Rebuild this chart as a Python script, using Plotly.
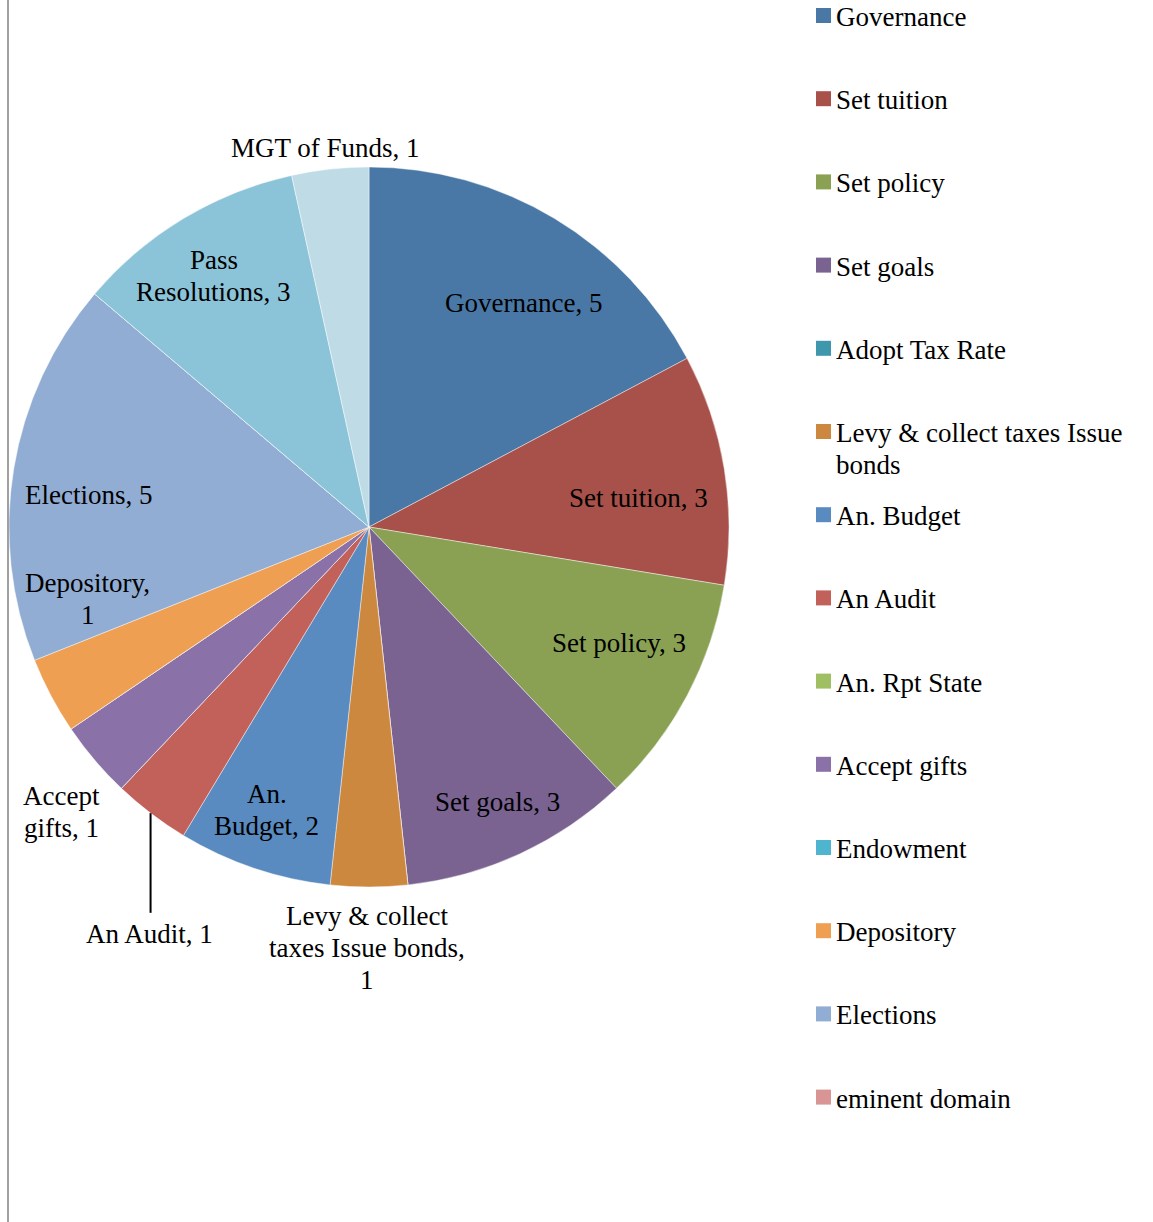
import math
import plotly.graph_objects as go

# ---- data -------------------------------------------------------------
categories = [
    "Governance", "Set tuition", "Set policy", "Set goals", "Adopt Tax Rate",
    "Levy & collect taxes Issue bonds", "An. Budget", "An Audit", "An. Rpt State",
    "Accept gifts", "Endowment", "Depository", "Elections", "eminent domain",
    "Pass Resolutions", "MGT of Funds",
]
counts = [5, 3, 3, 3, 0, 1, 2, 1, 0, 1, 0, 1, 5, 0, 3, 1]
legend_items = categories[:14]

colors = [
    "#4A78A6", "#A8514A", "#8AA154", "#7A6390", "#3F97AD",
    "#CD883F", "#598BC0", "#C2605A", "#A0BF62",
    "#8A72A8", "#4FB4CD", "#EE9F52", "#91ADD3", "#D99594",
    "#8BC4D8", "#BFDCE6",
]

# ---- layout constants (pixels) ---------------------------------------
W, H = 1153, 1222
CX, CY, R = 369, 527, 360
FONT = dict(family="Liberation Serif", size=27, color="#000000")
LINE_H = 32

# data-label placement: (angle shift from slice mid-angle in deg, radius fraction)
label_place = {
    "Governance": (3.5, 0.755),
    "Set tuition": (3.2, 0.754),
    "Set policy": (-3.0, 0.766),
    "Set goals": (-0.2, 0.842),
    "Levy & collect taxes Issue bonds": (0.3, 1.169),
    "An. Budget": (1.2, 0.836),
    "An Audit": (-8.9, 1.284),
    "Accept gifts": (-2.5, 1.166),
    "Depository": (13.5, 0.806),
    "Elections": (-2.8, 0.783),
    "Pass Resolutions": (-0.7, 0.819),
    "MGT of Funds": (-0.3, 1.06),
}
# how each data label wraps onto lines
label_wrap = {
    "Levy & collect taxes Issue bonds": ["Levy & collect", "taxes Issue bonds,", "{v}"],
    "An. Budget": ["An.", "Budget, {v}"],
    "Accept gifts": ["Accept", "gifts, {v}"],
    "Depository": ["Depository,", "{v}"],
    "Pass Resolutions": ["Pass", "Resolutions, {v}"],
}
legend_wrap = {"Levy & collect taxes Issue bonds": ["Levy & collect taxes Issue", "bonds"]}
leader_lines = {"An Audit"}


def px(x):
    return x / W


def py(y):
    return 1 - y / H


fig = go.Figure(
    go.Pie(
        labels=categories,
        values=counts,
        sort=False,
        direction="clockwise",
        rotation=0,
        textinfo="none",
        hoverinfo="label+value",
        showlegend=False,
        marker=dict(colors=colors, line=dict(color="rgba(255,255,255,0.55)", width=0.8)),
        domain=dict(x=[px(CX - R), px(CX + R)], y=[py(CY + R), py(CY - R)]),
    )
)

annotations = []
shapes = []

# data labels, positioned from each slice's mid-angle
total = sum(counts)
cum = 0
for name, v in zip(categories, counts):
    start = cum
    cum += v
    if v == 0 or name not in label_place:
        continue
    mid = (start + v / 2) / total * 360
    dth, rf = label_place[name]
    th = math.radians(mid + dth)
    lx = CX + rf * R * math.sin(th)
    ly = CY - rf * R * math.cos(th)
    lines = [s.format(v=v) for s in label_wrap.get(name, [f"{name}, {{v}}"])]
    n = len(lines)
    for k, line in enumerate(lines):
        yk = ly + (k - (n - 1) / 2) * LINE_H
        annotations.append(dict(
            x=px(lx), y=py(yk), xref="paper", yref="paper", text=line,
            showarrow=False, xanchor="center", yanchor="middle", font=FONT,
        ))
    if name in leader_lines:
        x_line = lx + 1
        y_edge = CY + math.sqrt(R ** 2 - (x_line - CX) ** 2)
        y_end = ly - n * LINE_H / 2 - 5
        shapes.append(dict(
            type="line", xref="paper", yref="paper",
            x0=px(x_line), x1=px(x_line), y0=py(y_edge), y1=py(y_end),
            line=dict(color="#000000", width=2),
        ))

# legend
LEG_Y0, LEG_STEP = 17, 83.2
MK_X0, MK_SIZE, TXT_X = 816, 15, 834
for i, name in enumerate(legend_items):
    yc = LEG_Y0 + i * LEG_STEP
    shapes.append(dict(
        type="rect", xref="paper", yref="paper",
        x0=px(MK_X0), x1=px(MK_X0 + MK_SIZE),
        y0=py(yc - 9), y1=py(yc - 9 + MK_SIZE),
        fillcolor=colors[i], line=dict(width=0),
    ))
    for k, line in enumerate(legend_wrap.get(name, [name])):
        annotations.append(dict(
            x=px(TXT_X), y=py(yc + k * LINE_H), xref="paper", yref="paper",
            text=line, showarrow=False, xanchor="left", yanchor="middle", font=FONT,
        ))

# left border of the chart area
shapes.append(dict(
    type="line", xref="paper", yref="paper", x0=px(8), x1=px(8), y0=0, y1=1,
    line=dict(color="#A0A0A0", width=2),
))

fig.update_layout(
    width=W, height=H,
    margin=dict(l=0, r=0, t=0, b=0),
    paper_bgcolor="#FFFFFF",
    plot_bgcolor="#FFFFFF",
    annotations=annotations,
    shapes=shapes,
    showlegend=False,
)

fig.write_html("out.html")
